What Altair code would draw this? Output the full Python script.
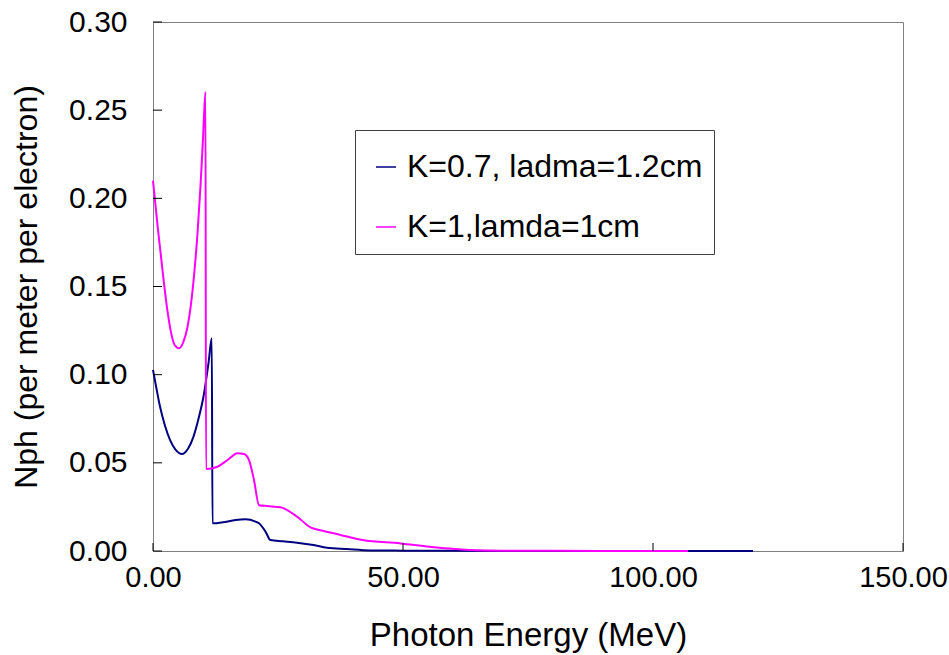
import altair as alt
import pandas as pd

NAVY_LABEL = "K=0.7, ladma=1.2cm"
MAG_LABEL = "K=1,lamda=1cm"

navy_x = [0, 0.7, 1.4, 2.4, 3.4, 4.5, 5.8, 7.0, 8.1, 9.1, 10.1, 11.1, 11.75,
          11.9, 14.0, 16.5, 18.5, 20.5, 21.2, 22.5, 23.5, 26.0, 28.8, 32.1,
          34.8, 38.8, 43.4, 50, 60, 80, 100, 120]
navy_y = [0.1027, 0.092, 0.0819, 0.071, 0.063, 0.0575, 0.055, 0.058, 0.0649,
          0.075, 0.0876, 0.1065, 0.1206,
          0.0157, 0.0163, 0.0176, 0.018, 0.0167, 0.0157, 0.011, 0.0062, 0.0055,
          0.0047, 0.0034, 0.0019, 0.0011, 0.0003, 0.0002, 0.0001, 0.00005,
          0.00003, 0.0]

mag_x = [0, 0.93, 1.93, 2.9, 3.6, 4.3, 5.2, 6.0, 6.9, 7.6, 8.2, 8.9, 9.5,
         10.0, 10.5, 10.6, 12.9, 14.9, 16.9, 18.2, 19.2, 20.2, 21.2, 22.8,
         25.5, 28.8, 31.5, 34.0, 37.5, 41.9, 49.5, 55.3, 63.3, 70, 80, 95, 107]
mag_y = [0.210, 0.184, 0.1585, 0.136, 0.124, 0.117, 0.115, 0.118, 0.127,
         0.140, 0.156, 0.180, 0.207, 0.234, 0.2605, 0.0465, 0.0478, 0.0516,
         0.0555, 0.055, 0.0516, 0.0403, 0.026, 0.0255, 0.0248, 0.0195, 0.0134,
         0.0115, 0.0091, 0.0062, 0.0043, 0.0024, 0.0006, 0.0002, 0.0001,
         0.00005, 0.0]

x_ticks = [0, 50, 100, 150]
y_ticks = [0.0, 0.05, 0.10, 0.15, 0.20, 0.25, 0.30]

rows = []
for i, (x, y) in enumerate(zip(navy_x, navy_y)):
    rows.append({"energy": x, "nph": y, "series": NAVY_LABEL, "idx": i})
for i, (x, y) in enumerate(zip(mag_x, mag_y)):
    rows.append({"energy": x, "nph": y, "series": MAG_LABEL, "idx": i})
df = pd.DataFrame(rows)

FONT = "Liberation Sans"

xscale = alt.Scale(domain=[0, 150], nice=False, zero=False)
yscale = alt.Scale(domain=[0, 0.30], nice=False)

lines = alt.Chart(df).mark_line(strokeWidth=2, interpolate="monotone").encode(
    x=alt.X("energy:Q", scale=xscale,
            axis=alt.Axis(values=x_ticks, format=".2f", title="Photon Energy (MeV)",
                          ticks=False, grid=False, domainColor="#808080",
                          labelFlush=False, labelFontSize=29, titleFontSize=33,
                          labelPadding=12, titlePadding=27)),
    y=alt.Y("nph:Q", scale=yscale,
            axis=alt.Axis(values=y_ticks, format=".2f",
                          title="Nph (per meter per electron)",
                          ticks=False, grid=False, domainColor="#808080",
                          labelFlush=False, labelFontSize=30, titleFontSize=32,
                          labelPadding=26, titlePadding=25)),
    color=alt.Color("series:N",
                    scale=alt.Scale(domain=[NAVY_LABEL, MAG_LABEL],
                                    range=["#000080", "#FF00FF"]),
                    legend=alt.Legend(title=" ", orient="none",
                                      legendX=202, legendY=108)),
    order="idx:Q",
)

ytick_df = pd.DataFrame({"v": y_ticks})
xtick_df = pd.DataFrame({"t": x_ticks})

yt = alt.Chart(ytick_df).mark_rule(color="black", strokeWidth=1).encode(
    y=alt.Y("v:Q", scale=yscale),
    x=alt.value(0), x2=alt.value(9),
)
xt = alt.Chart(xtick_df).mark_rule(color="black", strokeWidth=1).encode(
    x=alt.X("t:Q", scale=xscale),
    y=alt.value(529), y2=alt.value(521),
)

chart = alt.layer(lines, yt, xt).properties(
    width=750, height=529,
    autosize=alt.AutoSizeParams(type="none"),
    padding={"left": 153, "top": 22, "right": 46, "bottom": 104},
    background="white",
).configure_view(
    stroke="#808080", strokeWidth=1
).configure_axis(
    labelFont=FONT, titleFont=FONT,
    labelColor="black", titleColor="black", titleFontWeight="normal",
).configure_legend(
    labelFont=FONT, labelFontSize=32, labelColor="black", labelLimit=600,
    titleFontSize=10, titlePadding=0,
    symbolType="stroke", symbolSize=400, symbolStrokeWidth=1.5,
    symbolOffset=4, padding=11, rowPadding=28,
    strokeColor="#404040", fillColor="white", labelOffset=5,
)

chart.save("out.html", embed_options={"renderer": "svg", "actions": False})
